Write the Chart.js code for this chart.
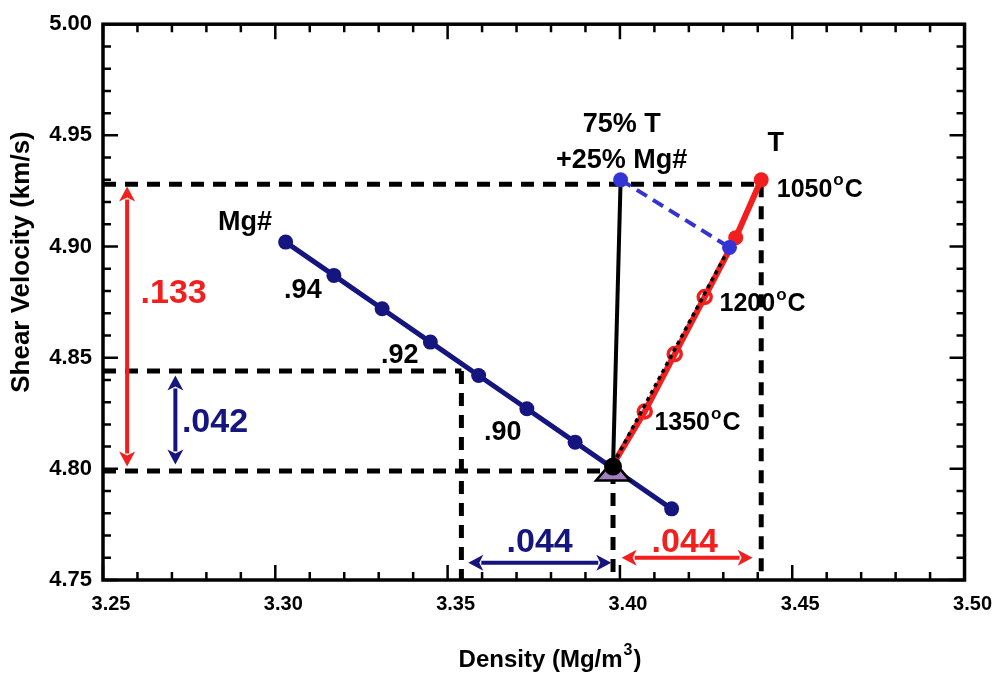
<!DOCTYPE html>
<html>
<head>
<meta charset="utf-8">
<script src="https://cdn.jsdelivr.net/npm/chart.js@4/dist/chart.umd.min.js"></script>
<style>
  html, body { margin: 0; padding: 0; background: #fff; }
  canvas { display: block; }
</style>
</head>
<body>
<canvas id="chart" width="996" height="674"></canvas>
<script>
// ---- data ----
const xTicks = [3.25, 3.30, 3.35, 3.40, 3.45, 3.50];
const yTicks = [4.75, 4.80, 4.85, 4.90, 4.95, 5.00];

// Mg# trend
const mgDensity = [3.303, 3.317, 3.331, 3.345, 3.359, 3.373, 3.387, 3.401, 3.415];
const mgVelocity = [4.902, 4.887, 4.872, 4.857, 4.842, 4.827, 4.812, 4.797, 4.782];

// temperature trend (first value is the shared start)
const tDensity = [3.398, 3.4072, 3.4159, 3.4246, 3.4336, 3.441];
const tVelocity = [4.802, 4.8258, 4.8516, 4.8773, 4.904, 4.930];

// 75% T + 25% Mg# mix
const mixDensity = [3.4002, 3.4318];
const mixVelocity = [4.930, 4.8996];

const startPoint = [3.398, 4.801];

// dashed reference corners
const refDensity = [3.441, 3.354, 3.398];
const refVelocity = [4.928, 4.844, 4.799];

// difference arrows
const arrowX1 = [3.257, 3.271, 3.356, 3.4005];
const arrowY1 = [4.927, 4.842, 4.7578, 4.760];
const arrowX2 = [3.257, 3.271, 3.3975, 3.4385];
const arrowY2 = [4.801, 4.802, 4.7578, 4.760];
const spanText = ['.133', '.042', '.044', '.044'];
const spanDensity = [3.2705, 3.2825, 3.3767, 3.4188];
const spanVelocity = [4.8787, 4.8209, 4.767, 4.767];

// notes
const noteText = ['Mg#', '.94', '.92', '.90', '75% T', '+25% Mg#', 'T'];
const noteDensity = [3.2912, 3.308, 3.3361, 3.366, 3.4005, 3.4005, 3.4452];
const noteVelocity = [4.9107, 4.880, 4.851, 4.8164, 4.9547, 4.9387, 4.9462];

const tempText = ['1050', '1200', '1350'];
const tempDensity = [3.4455, 3.4289, 3.410];
const tempVelocity = [4.9253, 4.874, 4.8204];

// ---- styles ----
const NAVY = '#15157f';
const RED = '#f21f1f';
const MIXBLUE = '#3434d4';
const PURPLE = '#a47fbf';
const FONT = '"Liberation Sans", Arial, sans-serif';
const arrowColors = [RED, NAVY, NAVY, RED];
const spanColors = [RED, NAVY, NAVY, RED];

const pts = (xs, ys) => xs.map((x, i) => ({ x, y: ys[i] }));

const refSets = [];
refDensity.forEach((d, i) => {
    refSets.push({ data: pts([3.25, d], [refVelocity[i], refVelocity[i]]) });
    refSets.push({ data: pts([d, d], [refVelocity[i], 4.75]) });
});

const datasets = [
    ...refSets.map(s => ({
        ...s, showLine: true, borderColor: '#000', borderWidth: 5,
        borderDash: [13, 9], pointRadius: 0, order: 10
    })),
    {
        data: pts(mgDensity, mgVelocity), showLine: true, borderColor: NAVY, borderWidth: 5,
        pointRadius: mgDensity.map((_, i) => i === 7 ? 0 : 7.5),
        pointBackgroundColor: NAVY, pointBorderWidth: 0, order: 6
    },
    {
        data: pts(tDensity, tVelocity), showLine: true, borderColor: RED, borderWidth: 6,
        pointRadius: [0, 6.5, 6.5, 6.5, 7.5, 7.5],
        pointBorderColor: RED,
        pointBackgroundColor: ['transparent', 'transparent', 'transparent', 'transparent', RED, RED],
        pointBorderWidth: [0, 3.5, 3.5, 3.5, 0, 0], order: 5
    },
    {
        data: pts([tDensity[0], mixDensity[1]], [tVelocity[0], mixVelocity[1]]), showLine: true,
        borderColor: '#000', borderWidth: 3.5, borderDash: [4, 4], pointRadius: 0, order: 4
    },
    {
        data: pts([startPoint[0], mixDensity[0]], [startPoint[1], mixVelocity[0]]), showLine: true,
        borderColor: '#000', borderWidth: 4, pointRadius: 0, order: 3
    },
    {
        data: pts(mixDensity, mixVelocity), showLine: true, borderColor: MIXBLUE, borderWidth: 4,
        borderDash: [12, 7], pointRadius: 7.5, pointBackgroundColor: MIXBLUE,
        pointBorderWidth: 0, order: 2
    }
];

function arrow(ctx, x1, y1, x2, y2, color) {
    const ang = Math.atan2(y2 - y1, x2 - x1);
    const len = Math.hypot(x2 - x1, y2 - y1);
    const head = 15, half = 8;
    ctx.save();
    ctx.translate(x1, y1);
    ctx.rotate(ang);
    ctx.strokeStyle = color;
    ctx.fillStyle = color;
    ctx.lineWidth = 4;
    ctx.beginPath();
    ctx.moveTo(head - 2, 0);
    ctx.lineTo(len - head + 2, 0);
    ctx.stroke();
    ctx.beginPath();
    ctx.moveTo(0, 0); ctx.lineTo(head, -half); ctx.lineTo(head - 4, 0); ctx.lineTo(head, half);
    ctx.closePath(); ctx.fill();
    ctx.beginPath();
    ctx.moveTo(len, 0); ctx.lineTo(len - head, -half); ctx.lineTo(len - head + 4, 0); ctx.lineTo(len - head, half);
    ctx.closePath(); ctx.fill();
    ctx.restore();
}

// text with a raised small part, e.g. "1050" "o" "C"
function supText(ctx, px, py, base, sup, tail, size) {
    ctx.font = `bold ${size}px ${FONT}`;
    ctx.fillText(base, px, py);
    let w = ctx.measureText(base).width + 1;
    ctx.font = `bold ${Math.round(size * 0.66)}px ${FONT}`;
    ctx.fillText(sup, px + w, py - size * 0.38);
    w += ctx.measureText(sup).width + 1;
    ctx.font = `bold ${size}px ${FONT}`;
    ctx.fillText(tail, px + w, py);
    return w + ctx.measureText(tail).width;
}

const annotations = {
    id: 'annotations',
    afterDatasetsDraw(chart) {
        const { ctx, scales: { x, y } } = chart;
        ctx.save();

        // start marker: triangle + black dot
        const sx = x.getPixelForValue(startPoint[0]);
        const sy = y.getPixelForValue(startPoint[1]);
        ctx.beginPath();
        ctx.moveTo(sx, sy - 6);
        ctx.lineTo(sx + 17, sy + 14);
        ctx.lineTo(sx - 17, sy + 14);
        ctx.closePath();
        ctx.fillStyle = PURPLE;
        ctx.fill();
        ctx.lineWidth = 2.5;
        ctx.strokeStyle = '#000';
        ctx.stroke();
        ctx.beginPath();
        ctx.arc(sx, sy, 9, 0, Math.PI * 2);
        ctx.fillStyle = '#000';
        ctx.fill();

        arrowX1.forEach((_, i) => {
            arrow(ctx, x.getPixelForValue(arrowX1[i]), y.getPixelForValue(arrowY1[i]),
                x.getPixelForValue(arrowX2[i]), y.getPixelForValue(arrowY2[i]), arrowColors[i]);
        });

        ctx.textBaseline = 'middle';
        ctx.textAlign = 'center';
        ctx.font = `bold 34px ${FONT}`;
        spanText.forEach((t, i) => {
            ctx.fillStyle = spanColors[i];
            ctx.fillText(t, x.getPixelForValue(spanDensity[i]), y.getPixelForValue(spanVelocity[i]));
        });

        ctx.fillStyle = '#000';
        ctx.font = `bold 27px ${FONT}`;
        noteText.forEach((t, i) => {
            ctx.fillText(t, x.getPixelForValue(noteDensity[i]), y.getPixelForValue(noteVelocity[i]));
        });

        ctx.textAlign = 'left';
        tempText.forEach((t, i) => {
            supText(ctx, x.getPixelForValue(tempDensity[i]), y.getPixelForValue(tempVelocity[i]), t, 'o', 'C', 25);
        });

        // axis titles
        ctx.save();
        ctx.translate(22, 262);
        ctx.rotate(-Math.PI / 2);
        ctx.textAlign = 'center';
        ctx.font = `bold 26px ${FONT}`;
        ctx.fillText('Shear Velocity (km/s)', 0, 0);
        ctx.restore();

        ctx.font = `bold 24px ${FONT}`;
        const wBase = ctx.measureText('Density (Mg/m').width;
        ctx.font = `bold 16px ${FONT}`;
        const wSup = ctx.measureText('3').width;
        ctx.font = `bold 24px ${FONT}`;
        const wTail = ctx.measureText(')').width;
        const total = wBase + 1 + wSup + 1 + wTail;
        supText(ctx, 550 - total / 2, 660, 'Density (Mg/m', '3', ')', 24);

        ctx.restore();
    }
};

const frame = {
    id: 'frame',
    afterDraw(chart) {
        const { ctx, chartArea: a, scales: { x, y } } = chart;
        ctx.save();
        ctx.strokeStyle = '#000';
        ctx.lineWidth = 2.5;
        ctx.beginPath();
        for (let i = 0; i <= 25; i++) {
            const len = i % 5 === 0 ? 15 : 8;
            const px = x.getPixelForValue(3.25 + i * 0.01);
            ctx.moveTo(px, a.bottom); ctx.lineTo(px, a.bottom - len);
            ctx.moveTo(px, a.top); ctx.lineTo(px, a.top + len);
            const py = y.getPixelForValue(4.75 + i * 0.01);
            ctx.moveTo(a.left, py); ctx.lineTo(a.left + len, py);
            ctx.moveTo(a.right, py); ctx.lineTo(a.right - len, py);
        }
        ctx.stroke();
        ctx.lineWidth = 3.5;
        ctx.strokeRect(a.left, a.top, a.right - a.left, a.bottom - a.top);
        ctx.restore();
    }
};

new Chart(document.getElementById('chart'), {
    type: 'scatter',
    data: { datasets },
    options: {
        responsive: false,
        devicePixelRatio: 1,
        animation: false,
        layout: { padding: { top: 17, right: 31, bottom: 0, left: 0 } },
        plugins: { legend: { display: false }, tooltip: { enabled: false } },
        scales: {
            x: {
                type: 'linear', min: 3.25, max: 3.5,
                afterBuildTicks: s => { s.ticks = xTicks.map(v => ({ value: v })); },
                afterFit: s => { s.height = 94; },
                grid: { display: false, drawTicks: false },
                border: { display: false },
                ticks: {
                    autoSkip: false, maxRotation: 0, padding: 12, labelOffset: 8, color: '#000',
                    font: { family: FONT, size: 20, weight: 'bold' },
                    callback: v => v.toFixed(2)
                }
            },
            y: {
                type: 'linear', min: 4.75, max: 5.0,
                afterBuildTicks: s => { s.ticks = yTicks.map(v => ({ value: v })); },
                afterFit: s => { s.width = 103; },
                grid: { display: false, drawTicks: false },
                border: { display: false },
                ticks: {
                    autoSkip: false, padding: 11, color: '#000',
                    font: { family: FONT, size: 22, weight: 'bold' },
                    callback: v => v.toFixed(2)
                }
            }
        }
    },
    plugins: [annotations, frame]
});
</script>
</body>
</html>
